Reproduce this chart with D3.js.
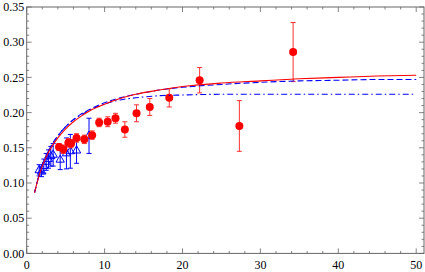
<!DOCTYPE html>
<html>
<head>
<meta charset="utf-8">
<script src="https://cdn.jsdelivr.net/npm/d3@7"></script>
<style>
  body { margin: 0; background: #fff; }
</style>
</head>
<body>
<div id="chart"></div>
<script>
// red points (filled circles) with error bars
var redX   = [4.15, 4.7, 5.35, 5.7, 6.4, 7.4, 8.4, 9.3, 10.4, 11.4, 12.6, 14.1, 15.8, 18.3, 22.2, 27.3, 34.2];
var redY   = [0.151, 0.148, 0.157, 0.156, 0.164, 0.162, 0.168, 0.186, 0.187, 0.192, 0.176, 0.199, 0.208, 0.221, 0.246, 0.181, 0.286];
var redErr = [0.005, 0.006, 0.006, 0.006, 0.006, 0.006, 0.006, 0.006, 0.007, 0.007, 0.011, 0.012, 0.012, 0.013, 0.018, 0.036, 0.042];

// blue points (open triangles) with error bars
var blueX   = [1.6, 1.9, 2.2, 2.5, 2.8, 3.1, 3.4, 4.3, 5.1, 5.6, 6.4, 8.0];
var blueY   = [0.118, 0.116, 0.124, 0.130, 0.134, 0.138, 0.140, 0.133, 0.142, 0.145, 0.146, 0.167];
var blueErr = [0.008, 0.007, 0.010, 0.012, 0.013, 0.014, 0.016, 0.014, 0.022, 0.024, 0.018, 0.025];

// curves
var curveX   = [1, 1.5, 2, 2.5, 3, 4, 5, 6, 7, 8, 10, 12, 14, 17, 20, 25, 30, 35, 40, 45, 50];
var solidY   = [0.086, 0.107, 0.124, 0.137, 0.148, 0.164, 0.177, 0.187, 0.195, 0.202, 0.212, 0.220, 0.226, 0.232, 0.237, 0.242, 0.245, 0.248, 0.250, 0.252, 0.253];
var dashedY  = [0.086, 0.108, 0.126, 0.139, 0.150, 0.167, 0.180, 0.190, 0.198, 0.204, 0.214, 0.221, 0.226, 0.232, 0.236, 0.240, 0.243, 0.245, 0.246, 0.247, 0.247];
var dashDotY = [0.086, 0.108, 0.126, 0.139, 0.150, 0.167, 0.180, 0.190, 0.197, 0.203, 0.212, 0.218, 0.221, 0.224, 0.225, 0.226, 0.226, 0.226, 0.226, 0.226, 0.226];

var xTicks = [0, 10, 20, 30, 40, 50];
var yTicks = [0, 0.05, 0.10, 0.15, 0.20, 0.25, 0.30, 0.35];

var width = 425, height = 272;
var mLeft = 26.7, mRight = 424, mTop = 7, mBottom = 253.4;

var svg = d3.select("#chart").append("svg")
    .attr("width", width)
    .attr("height", height)
    .attr("font-family", "'Liberation Serif', 'DejaVu Serif', serif")
    .attr("font-size", 12);

var x = d3.scaleLinear().domain([0, 51]).range([mLeft, mRight]);
var y = d3.scaleLinear().domain([0, 0.35]).range([mBottom, mTop]);

var frameColor = "#666";

// frame
svg.append("rect")
    .attr("x", mLeft).attr("y", mTop)
    .attr("width", mRight - mLeft).attr("height", mBottom - mTop)
    .attr("fill", "none").attr("stroke", frameColor).attr("stroke-width", 1);

// minor + major ticks on all four sides
var xMinor = d3.range(0, 51, 2);
var yMinor = d3.range(0, 0.3501, 0.01);

function tickLen(v, majors) {
    return majors.some(m => Math.abs(m - v) < 1e-6) ? 5 : 2.5;
}

var tg = svg.append("g").attr("stroke", frameColor).attr("stroke-width", 0.8);
xMinor.forEach(function(v) {
    var L = tickLen(v, xTicks);
    tg.append("line").attr("x1", x(v)).attr("x2", x(v)).attr("y1", mBottom).attr("y2", mBottom - L);
    tg.append("line").attr("x1", x(v)).attr("x2", x(v)).attr("y1", mTop).attr("y2", mTop + L);
});
yMinor.forEach(function(v) {
    var L = tickLen(v, yTicks);
    tg.append("line").attr("y1", y(v)).attr("y2", y(v)).attr("x1", mLeft).attr("x2", mLeft + L);
    tg.append("line").attr("y1", y(v)).attr("y2", y(v)).attr("x1", mRight).attr("x2", mRight - L);
});

// tick labels
svg.selectAll(".xl").data(xTicks).join("text")
    .attr("class", "xl")
    .attr("x", d => x(d)).attr("y", 268.5)
    .attr("text-anchor", "middle")
    .attr("fill", "#000")
    .text(d => d);
svg.selectAll(".yl").data(yTicks).join("text")
    .attr("class", "yl")
    .attr("x", mLeft - 2.5).attr("y", d => y(d)).attr("dy", "0.35em")
    .attr("text-anchor", "end")
    .attr("fill", "#000")
    .text(d => d.toFixed(2));

// clip to frame
svg.append("clipPath").attr("id", "clip").append("rect")
    .attr("x", mLeft).attr("y", mTop).attr("width", mRight - mLeft).attr("height", mBottom - mTop);
var g = svg.append("g").attr("clip-path", "url(#clip)");

// blue error bars + triangles
var blue = blueX.map((d, i) => ({x: d, y: blueY[i], e: blueErr[i]}));
var bb = g.append("g").attr("stroke", "#0000ff").attr("stroke-width", 1).attr("fill", "none");
blue.forEach(function(d) {
    bb.append("line").attr("x1", x(d.x)).attr("x2", x(d.x)).attr("y1", y(d.y - d.e)).attr("y2", y(d.y + d.e));
    bb.append("line").attr("x1", x(d.x) - 2.5).attr("x2", x(d.x) + 2.5).attr("y1", y(d.y - d.e)).attr("y2", y(d.y - d.e));
    bb.append("line").attr("x1", x(d.x) - 2.5).attr("x2", x(d.x) + 2.5).attr("y1", y(d.y + d.e)).attr("y2", y(d.y + d.e));
});
bb.selectAll("path").data(blue).join("path")
    .attr("d", d3.symbol().type(d3.symbolTriangle).size(30))
    .attr("transform", d => "translate(" + x(d.x) + "," + y(d.y) + ")");

// red error bars + dots
var red = redX.map((d, i) => ({x: d, y: redY[i], e: redErr[i]}));
var rb = g.append("g").attr("stroke", "#ff3030").attr("stroke-width", 1);
red.forEach(function(d) {
    rb.append("line").attr("x1", x(d.x)).attr("x2", x(d.x)).attr("y1", y(d.y - d.e)).attr("y2", y(d.y + d.e));
    rb.append("line").attr("x1", x(d.x) - 2.5).attr("x2", x(d.x) + 2.5).attr("y1", y(d.y - d.e)).attr("y2", y(d.y - d.e));
    rb.append("line").attr("x1", x(d.x) - 2.5).attr("x2", x(d.x) + 2.5).attr("y1", y(d.y + d.e)).attr("y2", y(d.y + d.e));
});
g.selectAll(".dot").data(red).join("circle")
    .attr("class", "dot")
    .attr("cx", d => x(d.x)).attr("cy", d => y(d.y)).attr("r", 4)
    .attr("fill", "#ff0000");

// curves
function drawCurve(ys, color, dash) {
    var line = d3.line()
        .x((d, i) => x(curveX[i]))
        .y(d => y(d))
        .curve(d3.curveMonotoneX);
    g.append("path")
        .datum(ys)
        .attr("d", line)
        .attr("fill", "none")
        .attr("stroke", color)
        .attr("stroke-width", 1.1)
        .attr("stroke-dasharray", dash);
}
drawCurve(dashDotY, "#0000ff", "6,3,1.5,3");
drawCurve(dashedY, "#0000ff", "6,3");
drawCurve(solidY, "#ff0000", null);
</script>
</body>
</html>
